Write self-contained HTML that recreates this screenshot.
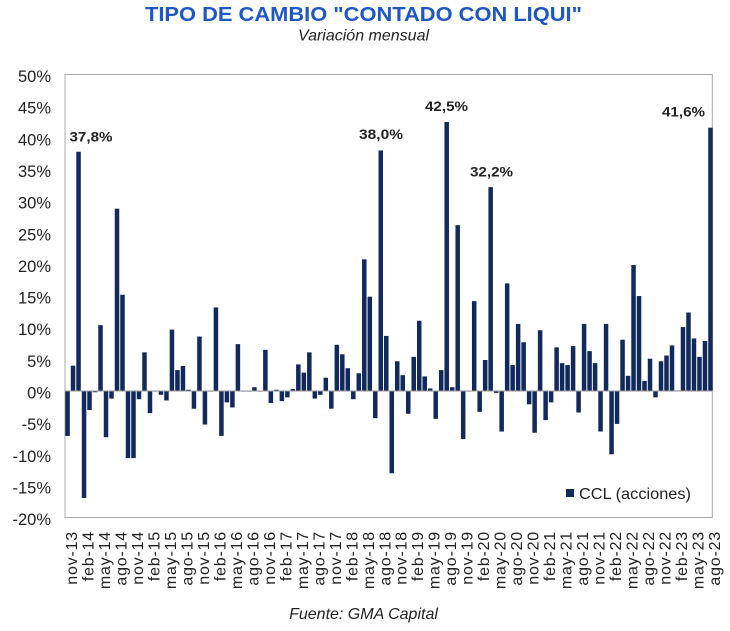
<!DOCTYPE html>
<html>
<head>
<meta charset="utf-8">
<style>
html,body{margin:0;padding:0;background:#fff;}
svg{display:block;}
text{font-family:"Liberation Sans",sans-serif;}
</style>
</head>
<body>
<svg width="730" height="631" viewBox="0 0 730 631" xmlns="http://www.w3.org/2000/svg">
<rect x="0" y="0" width="730" height="631" fill="#fff"/>
<!-- title -->
<text x="363.5" y="21" text-anchor="middle" font-size="20" font-weight="bold" fill="#1f57c3" textLength="437" lengthAdjust="spacingAndGlyphs">TIPO DE CAMBIO "CONTADO CON LIQUI"</text>
<text x="363.5" y="40.5" text-anchor="middle" font-size="16" font-style="italic" fill="#222">Variación mensual</text>

<!-- plot border -->
<rect x="65" y="74.5" width="647.3" height="443" fill="none" stroke="#a8a8a8" stroke-width="1"/>

<!-- y labels -->
<g font-size="16.5" fill="#222" text-anchor="end">
<text x="51" y="82">50%</text>
<text x="51" y="113.7">45%</text>
<text x="51" y="145.3">40%</text>
<text x="51" y="177">35%</text>
<text x="51" y="208.6">30%</text>
<text x="51" y="240.3">25%</text>
<text x="51" y="271.9">20%</text>
<text x="51" y="303.6">15%</text>
<text x="51" y="335.2">10%</text>
<text x="51" y="366.9">5%</text>
<text x="51" y="398.5">0%</text>
<text x="51" y="430.2">-5%</text>
<text x="51" y="461.8">-10%</text>
<text x="51" y="493.5">-15%</text>
<text x="51" y="525.1">-20%</text>
</g>

<!-- bars -->
<g transform="translate(65.3,391) scale(5.495,-6.33)" fill="#12295c">
<rect x="0" y="-7.1" width=".82" height="7.1"/>
<rect x="1" y="0" width=".82" height="4.0"/>
<rect x="2" y="0" width=".82" height="37.8"/>
<rect x="3" y="-16.9" width=".82" height="16.9"/>
<rect x="4" y="-3.0" width=".82" height="3.0"/>
<rect x="5" y="-0.2" width=".82" height="0.2"/>
<rect x="6" y="0" width=".82" height="10.4"/>
<rect x="7" y="-7.3" width=".82" height="7.3"/>
<rect x="8" y="-1.2" width=".82" height="1.2"/>
<rect x="9" y="0" width=".82" height="28.8"/>
<rect x="10" y="0" width=".82" height="15.2"/>
<rect x="11" y="-10.6" width=".82" height="10.6"/>
<rect x="12" y="-10.6" width=".82" height="10.6"/>
<rect x="13" y="-1.3" width=".82" height="1.3"/>
<rect x="14" y="0" width=".82" height="6.1"/>
<rect x="15" y="-3.5" width=".82" height="3.5"/>
<rect x="16" y="-0.1" width=".82" height="0.1"/>
<rect x="17" y="-0.6" width=".82" height="0.6"/>
<rect x="18" y="-1.5" width=".82" height="1.5"/>
<rect x="19" y="0" width=".82" height="9.7"/>
<rect x="20" y="0" width=".82" height="3.3"/>
<rect x="21" y="0" width=".82" height="3.95"/>
<rect x="22" y="0" width=".82" height="0.2"/>
<rect x="23" y="-2.8" width=".82" height="2.8"/>
<rect x="24" y="0" width=".82" height="8.6"/>
<rect x="25" y="-5.3" width=".82" height="5.3"/>
<rect x="26" y="-0.1" width=".82" height="0.1"/>
<rect x="27" y="0" width=".82" height="13.2"/>
<rect x="28" y="-7.1" width=".82" height="7.1"/>
<rect x="29" y="-1.8" width=".82" height="1.8"/>
<rect x="30" y="-2.6" width=".82" height="2.6"/>
<rect x="31" y="0" width=".82" height="7.4"/>
<rect x="32" y="-0.1" width=".82" height="0.1"/>
<rect x="33" y="-0.1" width=".82" height="0.1"/>
<rect x="34" y="0" width=".82" height="0.6"/>
<rect x="35" y="-0.1" width=".82" height="0.1"/>
<rect x="36" y="0" width=".82" height="6.5"/>
<rect x="37" y="-1.9" width=".82" height="1.9"/>
<rect x="38" y="0" width=".82" height="0.2"/>
<rect x="39" y="-1.6" width=".82" height="1.6"/>
<rect x="40" y="-1.0" width=".82" height="1.0"/>
<rect x="41" y="0" width=".82" height="0.3"/>
<rect x="42" y="0" width=".82" height="4.2"/>
<rect x="43" y="0" width=".82" height="2.9"/>
<rect x="44" y="0" width=".82" height="6.1"/>
<rect x="45" y="-1.2" width=".82" height="1.2"/>
<rect x="46" y="-0.6" width=".82" height="0.6"/>
<rect x="47" y="0" width=".82" height="2.1"/>
<rect x="48" y="-2.8" width=".82" height="2.8"/>
<rect x="49" y="0" width=".82" height="7.3"/>
<rect x="50" y="0" width=".82" height="5.8"/>
<rect x="51" y="0" width=".82" height="3.6"/>
<rect x="52" y="-1.3" width=".82" height="1.3"/>
<rect x="53" y="0" width=".82" height="2.8"/>
<rect x="54" y="0" width=".82" height="20.8"/>
<rect x="55" y="0" width=".82" height="14.9"/>
<rect x="56" y="-4.3" width=".82" height="4.3"/>
<rect x="57" y="0" width=".82" height="38.0"/>
<rect x="58" y="0" width=".82" height="8.7"/>
<rect x="59" y="-13.0" width=".82" height="13.0"/>
<rect x="60" y="0" width=".82" height="4.7"/>
<rect x="61" y="0" width=".82" height="2.5"/>
<rect x="62" y="-3.6" width=".82" height="3.6"/>
<rect x="63" y="0" width=".82" height="5.4"/>
<rect x="64" y="0" width=".82" height="11.1"/>
<rect x="65" y="0" width=".82" height="2.3"/>
<rect x="66" y="0" width=".82" height="0.4"/>
<rect x="67" y="-4.4" width=".82" height="4.4"/>
<rect x="68" y="0" width=".82" height="3.3"/>
<rect x="69" y="0" width=".82" height="42.5"/>
<rect x="70" y="0" width=".82" height="0.6"/>
<rect x="71" y="0" width=".82" height="26.2"/>
<rect x="72" y="-7.6" width=".82" height="7.6"/>
<rect x="73" y="-0.1" width=".82" height="0.1"/>
<rect x="74" y="0" width=".82" height="14.2"/>
<rect x="75" y="-3.3" width=".82" height="3.3"/>
<rect x="76" y="0" width=".82" height="4.9"/>
<rect x="77" y="0" width=".82" height="32.2"/>
<rect x="78" y="-0.3" width=".82" height="0.3"/>
<rect x="79" y="-6.4" width=".82" height="6.4"/>
<rect x="80" y="0" width=".82" height="17.0"/>
<rect x="81" y="0" width=".82" height="4.1"/>
<rect x="82" y="0" width=".82" height="10.6"/>
<rect x="83" y="0" width=".82" height="7.7"/>
<rect x="84" y="-2.1" width=".82" height="2.1"/>
<rect x="85" y="-6.6" width=".82" height="6.6"/>
<rect x="86" y="0" width=".82" height="9.6"/>
<rect x="87" y="-4.6" width=".82" height="4.6"/>
<rect x="88" y="-1.8" width=".82" height="1.8"/>
<rect x="89" y="0" width=".82" height="6.9"/>
<rect x="90" y="0" width=".82" height="4.4"/>
<rect x="91" y="0" width=".82" height="4.1"/>
<rect x="92" y="0" width=".82" height="7.1"/>
<rect x="93" y="-3.4" width=".82" height="3.4"/>
<rect x="94" y="0" width=".82" height="10.6"/>
<rect x="95" y="0" width=".82" height="6.3"/>
<rect x="96" y="0" width=".82" height="4.4"/>
<rect x="97" y="-6.4" width=".82" height="6.4"/>
<rect x="98" y="0" width=".82" height="10.6"/>
<rect x="99" y="-10.0" width=".82" height="10.0"/>
<rect x="100" y="-5.2" width=".82" height="5.2"/>
<rect x="101" y="0" width=".82" height="8.1"/>
<rect x="102" y="0" width=".82" height="2.4"/>
<rect x="103" y="0" width=".82" height="19.9"/>
<rect x="104" y="0" width=".82" height="15.0"/>
<rect x="105" y="0" width=".82" height="1.6"/>
<rect x="106" y="0" width=".82" height="5.1"/>
<rect x="107" y="-1.0" width=".82" height="1.0"/>
<rect x="108" y="0" width=".82" height="4.7"/>
<rect x="109" y="0" width=".82" height="5.6"/>
<rect x="110" y="0" width=".82" height="7.2"/>
<rect x="111" y="0" width=".82" height="0.1"/>
<rect x="112" y="0" width=".82" height="10.1"/>
<rect x="113" y="0" width=".82" height="12.4"/>
<rect x="114" y="0" width=".82" height="8.3"/>
<rect x="115" y="0" width=".82" height="5.4"/>
<rect x="116" y="0" width=".82" height="7.9"/>
<rect x="117" y="0" width=".82" height="41.6"/>
</g>

<!-- zero axis -->
<line x1="65" y1="391" x2="712.3" y2="391" stroke="#9a9a9a" stroke-width="1"/>

<!-- data labels -->
<g font-size="14" font-weight="bold" fill="#222">
<text x="69.5" y="141.5" textLength="43" lengthAdjust="spacingAndGlyphs">37,8%</text>
<text x="359" y="139" textLength="44" lengthAdjust="spacingAndGlyphs">38,0%</text>
<text x="425" y="111" textLength="43" lengthAdjust="spacingAndGlyphs">42,5%</text>
<text x="470" y="176.5" textLength="43" lengthAdjust="spacingAndGlyphs">32,2%</text>
<text x="662" y="116.5" textLength="43" lengthAdjust="spacingAndGlyphs">41,6%</text>
</g>

<!-- legend -->
<rect x="566" y="489" width="8" height="8" fill="#12295c"/>
<text x="579" y="499" font-size="16" fill="#222" textLength="112" lengthAdjust="spacingAndGlyphs">CCL (acciones)</text>

<!-- x labels -->
<g font-size="16" fill="#222" text-anchor="end" letter-spacing="0.8">
<text transform="translate(77.0,531) rotate(-90)">nov-13</text>
<text transform="translate(93.5,531) rotate(-90)">feb-14</text>
<text transform="translate(110.0,531) rotate(-90)">may-14</text>
<text transform="translate(126.5,531) rotate(-90)">ago-14</text>
<text transform="translate(143.0,531) rotate(-90)">nov-14</text>
<text transform="translate(159.5,531) rotate(-90)">feb-15</text>
<text transform="translate(176.0,531) rotate(-90)">may-15</text>
<text transform="translate(192.4,531) rotate(-90)">ago-15</text>
<text transform="translate(208.9,531) rotate(-90)">nov-15</text>
<text transform="translate(225.4,531) rotate(-90)">feb-16</text>
<text transform="translate(241.9,531) rotate(-90)">may-16</text>
<text transform="translate(258.4,531) rotate(-90)">ago-16</text>
<text transform="translate(274.9,531) rotate(-90)">nov-16</text>
<text transform="translate(291.4,531) rotate(-90)">feb-17</text>
<text transform="translate(307.8,531) rotate(-90)">may-17</text>
<text transform="translate(324.3,531) rotate(-90)">ago-17</text>
<text transform="translate(340.8,531) rotate(-90)">nov-17</text>
<text transform="translate(357.3,531) rotate(-90)">feb-18</text>
<text transform="translate(373.8,531) rotate(-90)">may-18</text>
<text transform="translate(390.3,531) rotate(-90)">ago-18</text>
<text transform="translate(406.7,531) rotate(-90)">nov-18</text>
<text transform="translate(423.2,531) rotate(-90)">feb-19</text>
<text transform="translate(439.7,531) rotate(-90)">may-19</text>
<text transform="translate(456.2,531) rotate(-90)">ago-19</text>
<text transform="translate(472.7,531) rotate(-90)">nov-19</text>
<text transform="translate(489.2,531) rotate(-90)">feb-20</text>
<text transform="translate(505.6,531) rotate(-90)">may-20</text>
<text transform="translate(522.1,531) rotate(-90)">ago-20</text>
<text transform="translate(538.6,531) rotate(-90)">nov-20</text>
<text transform="translate(555.1,531) rotate(-90)">feb-21</text>
<text transform="translate(571.6,531) rotate(-90)">may-21</text>
<text transform="translate(588.1,531) rotate(-90)">ago-21</text>
<text transform="translate(604.6,531) rotate(-90)">nov-21</text>
<text transform="translate(621.1,531) rotate(-90)">feb-22</text>
<text transform="translate(637.5,531) rotate(-90)">may-22</text>
<text transform="translate(654.0,531) rotate(-90)">ago-22</text>
<text transform="translate(670.5,531) rotate(-90)">nov-22</text>
<text transform="translate(687.0,531) rotate(-90)">feb-23</text>
<text transform="translate(703.5,531) rotate(-90)">may-23</text>
<text transform="translate(720.0,531) rotate(-90)">ago-23</text>
</g>

<!-- footer -->
<text x="363.5" y="619" text-anchor="middle" font-size="16" font-style="italic" fill="#222">Fuente: GMA Capital</text>
</svg>
</body>
</html>
